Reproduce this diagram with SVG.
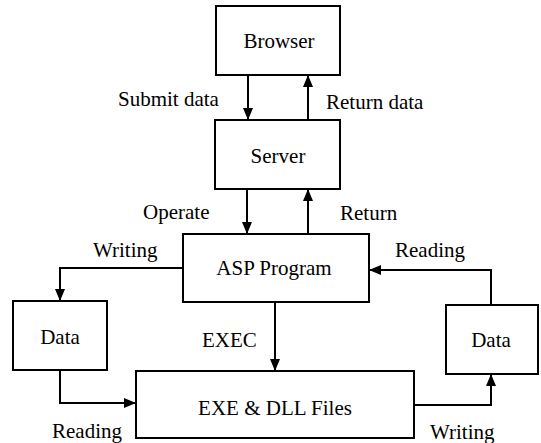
<svg xmlns="http://www.w3.org/2000/svg" width="541" height="443" viewBox="0 0 541 443">
<defs>
<marker id="ah" viewBox="0 0 12 10" refX="12" refY="5" markerWidth="12" markerHeight="10" markerUnits="userSpaceOnUse" orient="auto">
<path d="M0,0 L12,5 L0,10 Z" fill="#000"/>
</marker>
</defs>
<style>
.box{fill:#fff;stroke:#000;stroke-width:2}
text{font-family:'Liberation Serif','Times New Roman','DejaVu Serif',serif;font-size:21px;fill:#000}
.c{text-anchor:middle}
.ln{fill:none;stroke:#000;stroke-width:2}
</style>
<rect width="541" height="443" fill="#fff"/>
<g id="connectors" font-family="Liberation Serif, serif">
<line class="ln" x1="248" y1="75" x2="248" y2="120" marker-end="url(#ah)"/>
<line class="ln" x1="308" y1="120" x2="308" y2="75" marker-end="url(#ah)"/>
<line class="ln" x1="247" y1="189" x2="247" y2="234" marker-end="url(#ah)"/>
<line class="ln" x1="308" y1="234" x2="308" y2="189" marker-end="url(#ah)"/>
<line class="ln" x1="275" y1="302" x2="275" y2="371" marker-end="url(#ah)"/>
<polyline class="ln" points="183,268 60,268 60,301" marker-end="url(#ah)"/>
<polyline class="ln" points="60,370 60,403 136,403" marker-end="url(#ah)"/>
<polyline class="ln" points="491,305 491,270 369,270" marker-end="url(#ah)"/>
<polyline class="ln" points="414,405 491,405 491,374" marker-end="url(#ah)"/>
<text x="118" y="106">Submit data</text>
<text x="326" y="109">Return data</text>
<text x="143" y="219">Operate</text>
<text x="340" y="220">Return</text>
<text x="93" y="257">Writing</text>
<text x="395" y="257">Reading</text>
<text x="202" y="347">EXEC</text>
<text x="52" y="438">Reading</text>
<text x="430" y="439">Writing</text>
</g>
<g id="browser">
<rect class="box" x="216" y="6" width="124" height="69"/>
<text class="c" x="279" y="48">Browser</text>
</g>
<g id="server">
<rect class="box" x="215" y="120" width="125" height="69"/>
<text class="c" x="278" y="163">Server</text>
</g>
<g id="asp">
<rect class="box" x="183" y="234" width="186" height="68"/>
<text class="c" x="274" y="275">ASP Program</text>
</g>
<g id="data-left">
<rect class="box" x="13" y="301" width="94" height="69"/>
<text class="c" x="60" y="344">Data</text>
</g>
<g id="data-right">
<rect class="box" x="446" y="305" width="92" height="69"/>
<text class="c" x="491" y="347">Data</text>
</g>
<g id="exe">
<rect class="box" x="136" y="371" width="278" height="67"/>
<text class="c" x="275" y="415">EXE &amp; DLL Files</text>
</g>
</svg>
